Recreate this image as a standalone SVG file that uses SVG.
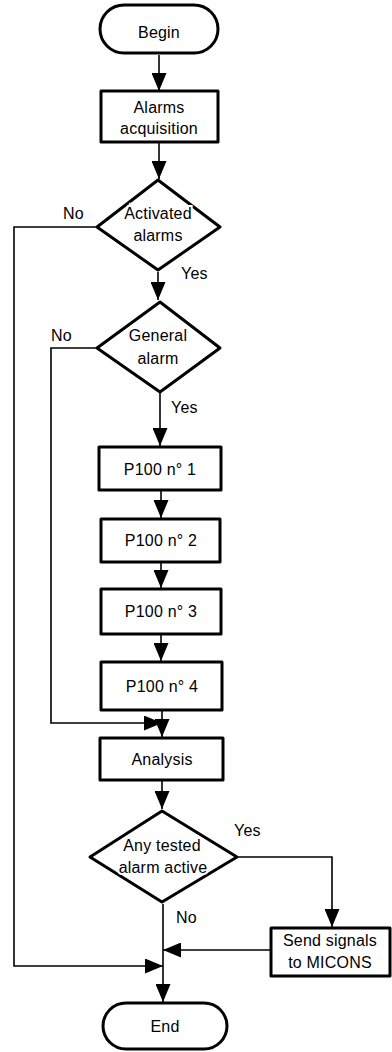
<svg xmlns="http://www.w3.org/2000/svg" width="392" height="1052" viewBox="0 0 392 1052">
  <style>
    .shape { fill: #fff; stroke: #000; stroke-width: 3; stroke-linejoin: round; }
    .wire { fill: none; stroke: #000; stroke-width: 1.6; }
    text { font-family: "Liberation Sans", Arial, sans-serif; font-size: 16px; letter-spacing: 0.2px; fill: #000; text-anchor: middle; }
    .knock { paint-order: stroke; stroke: #fff; stroke-width: 4; }
    .lbl { text-anchor: start; }
  </style>
  <defs>
    <marker id="arrow" viewBox="0 0 18 15" refX="18" refY="7.5" markerWidth="18" markerHeight="15" orient="auto" markerUnits="userSpaceOnUse">
      <path d="M0,0 L18,7.5 L0,15 z" fill="#000"/>
    </marker>
  </defs>
  <rect width="392" height="1052" fill="#fff"/>

  <g id="connectors">
    <path class="wire" d="M159,55 V91" marker-end="url(#arrow)"/>
    <path class="wire" d="M159,142 V179" marker-end="url(#arrow)"/>
    <path class="wire" d="M158,272 V300" marker-end="url(#arrow)"/>
    <path class="wire" d="M97,227 H14 V966 H163" marker-end="url(#arrow)"/>
    <path class="wire" d="M160,392 V446" marker-end="url(#arrow)"/>
    <path class="wire" d="M97,348 H51 V723 H162" marker-end="url(#arrow)"/>
    <path class="wire" d="M161,490 V518" marker-end="url(#arrow)"/>
    <path class="wire" d="M161,562 V588" marker-end="url(#arrow)"/>
    <path class="wire" d="M161,634 V661" marker-end="url(#arrow)"/>
    <path class="wire" d="M162,710 V737" marker-end="url(#arrow)"/>
    <path class="wire" d="M162,780 V809" marker-end="url(#arrow)"/>
    <path class="wire" d="M237,857 H332 V927" marker-end="url(#arrow)"/>
    <path class="wire" d="M270,950 H163" marker-end="url(#arrow)"/>
    <path class="wire" d="M163,904 V1002" marker-end="url(#arrow)"/>
  </g>

  <g id="labels">
    <text class="lbl" x="63" y="219">No</text>
    <text class="lbl" x="181" y="279">Yes</text>
    <text class="lbl" x="51" y="341">No</text>
    <text class="lbl" x="171" y="413">Yes</text>
    <text class="lbl" x="234" y="836">Yes</text>
    <text class="lbl" x="176" y="923">No</text>
  </g>

  <g id="begin">
    <rect class="shape" x="100" y="5" width="118" height="48" rx="24"/>
    <text x="159" y="38">Begin</text>
  </g>

  <g id="acquisition">
    <rect class="shape" x="101" y="91" width="117" height="51"/>
    <text x="159" y="113">Alarms</text>
    <text x="159" y="134">acquisition</text>
  </g>

  <g id="activated">
    <polygon class="shape" points="158,180 220,227 158,270 97,227"/>
    <text class="knock" x="158" y="219">Activated</text>
    <text class="knock" x="158" y="241">alarms</text>
  </g>

  <g id="general">
    <polygon class="shape" points="160,302 220,348 160,392 97,348"/>
    <text class="knock" x="158" y="341">General</text>
    <text class="knock" x="158" y="364">alarm</text>
  </g>

  <g id="p100-1">
    <rect class="shape" x="99" y="447" width="122" height="43"/>
    <text x="160" y="475">P100 n° 1</text>
  </g>

  <g id="p100-2">
    <rect class="shape" x="101" y="519" width="119" height="43"/>
    <text x="161" y="546">P100 n° 2</text>
  </g>

  <g id="p100-3">
    <rect class="shape" x="101" y="589" width="120" height="45"/>
    <text x="161" y="617">P100 n° 3</text>
  </g>

  <g id="p100-4">
    <rect class="shape" x="101" y="662" width="121" height="48"/>
    <text x="162" y="692">P100 n° 4</text>
  </g>

  <g id="analysis">
    <rect class="shape" x="100" y="738" width="123" height="42"/>
    <text x="162" y="765">Analysis</text>
  </g>

  <g id="tested">
    <polygon class="shape" points="162,811 237,857 162,902 90,857"/>
    <text class="knock" x="162" y="851">Any tested</text>
    <text class="knock" x="163" y="873">alarm active</text>
  </g>

  <g id="micons">
    <rect class="shape" x="271" y="928" width="119" height="48"/>
    <text x="330" y="946">Send signals</text>
    <text x="330" y="968">to MICONS</text>
  </g>

  <g id="end">
    <rect class="shape" x="103" y="1003" width="124" height="46" rx="23"/>
    <text x="165" y="1032">End</text>
  </g>
</svg>
